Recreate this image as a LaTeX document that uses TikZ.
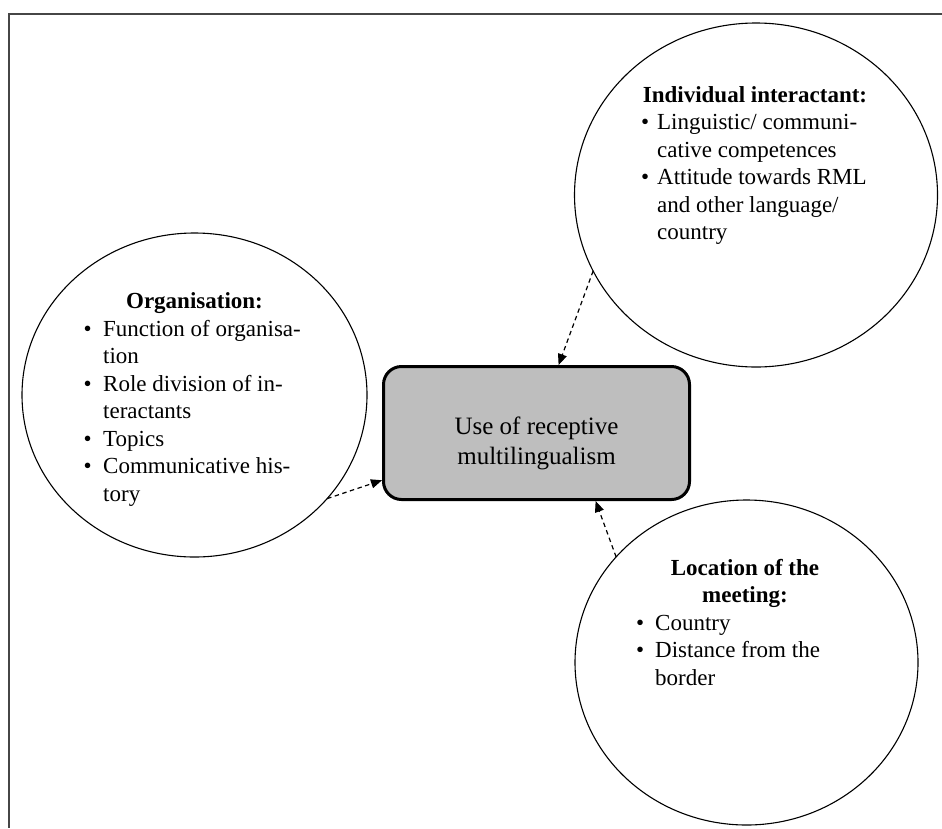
\documentclass[tikz,border=0pt]{standalone}
\usepackage{fontspec}
\setmainfont{Liberation Serif}
\usetikzlibrary{shapes.geometric,arrows.meta}
\definecolor{hubgray}{RGB}{190,190,190}
\definecolor{framegray}{RGB}{70,70,70}

\begin{document}
\begin{tikzpicture}[x=1pt,y=-1pt,
  bubble/.style={draw, ellipse, line width=1.1pt, inner sep=0pt, outer sep=0pt},
  hub/.style={draw, line width=3pt, rounded corners=18pt, fill=hubgray,
    inner sep=0pt, minimum width=306pt, minimum height=133pt},
  head/.style={font=\fontsize{23}{27.5}\selectfont\bfseries, inner sep=0pt, anchor=base},
  list/.style={font=\fontsize{23}{27.5}\selectfont, inner sep=0pt, anchor=base west},
  hubtext/.style={font=\fontsize{25}{30}\selectfont, inner sep=0pt, anchor=base},
  influence/.style={dashed, dash pattern=on 4.5pt off 3.5pt, line width=1.2pt,
    -{Triangle[length=11pt,width=9pt]}}
]
\useasboundingbox (0,0) rectangle (942,828);

% outer frame (top and left edges)
\draw[framegray, line width=2pt] (942,13.5) -- (9,13.5) -- (9,828);

% central box
\node[hub] (hub) at (536.5,433) {};
\node[hubtext] (hubtxt) at (536.5,434)
  {\begin{tabular}[t]{@{}c@{}}Use of receptive\\multilingualism\end{tabular}};

% surrounding factors
\node[bubble, minimum width=345pt, minimum height=324pt] (org) at (194.5,395) {};
\node[bubble, minimum width=363pt, minimum height=344pt] (ind) at (756,195) {};
\node[bubble, minimum width=343pt, minimum height=325pt] (loc) at (746.5,662.5) {};

% texts of the individual interactant
\node[head] (indhead) at (755,102) {Individual interactant:};
\node[list] (indlist) at (641,129.5) {\begin{tabular}[t]{@{}p{16pt}@{}l@{}}
  \textbullet & Linguistic/ communi-\\
              & cative competences\\
  \textbullet & Attitude towards RML\\
              & and other language/\\
              & country
\end{tabular}};

% texts of the organisation
\node[head] (orghead) at (194.5,308.5) {Organisation:};
\node[list] (orglist) at (83.5,336) {\begin{tabular}[t]{@{}p{19.5pt}@{}l@{}}
  \textbullet & Function of organisa-\\
              & tion\\
  \textbullet & Role division of in-\\
              & teractants\\
  \textbullet & Topics\\
  \textbullet & Communicative his-\\
              & tory
\end{tabular}};

% texts of the location
\node[head] (lochead) at (745,575)
  {\begin{tabular}[t]{@{}c@{}}Location of the\\meeting:\end{tabular}};
\node[list] (loclist) at (636,630) {\begin{tabular}[t]{@{}p{19pt}@{}l@{}}
  \textbullet & Country\\
  \textbullet & Distance from the\\
              & border
\end{tabular}};

% influences on the use of receptive multilingualism
\draw[influence] (org.-38.3) -- (hub.197.4);
\draw[influence] (ind.205.6) -- (hub.72);
\draw[influence] (loc.141.9) -- (hub.-49.5);
\end{tikzpicture}
\end{document}
